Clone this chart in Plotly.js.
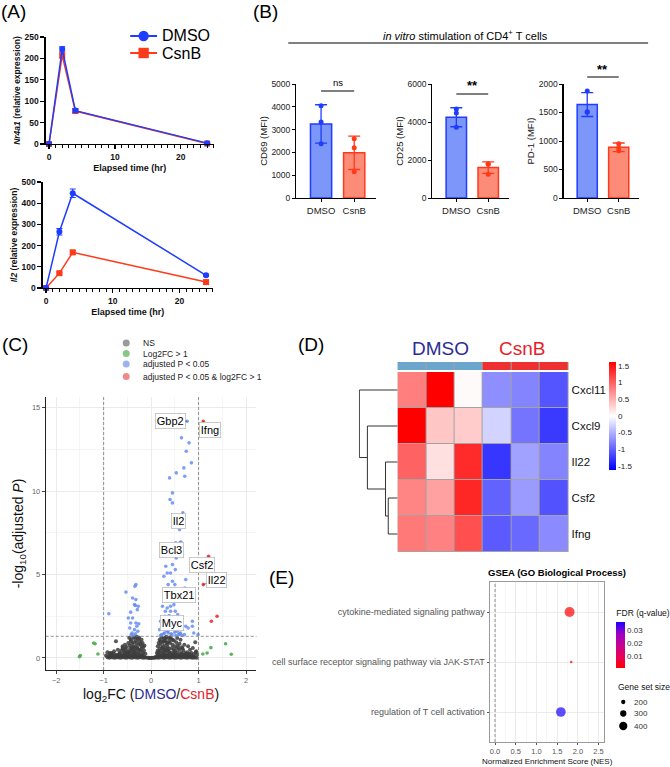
<!DOCTYPE html>
<html><head><meta charset="utf-8">
<script src="https://cdn.plot.ly/plotly-3.0.1.min.js"></script>
<style>html,body{margin:0;padding:0;background:#fff}#chart{width:670px;height:767px}</style>
</head><body><div id="chart"></div>
<script>
// ================= DATA =================
// (A) qPCR time course
const timeHr = [0, 2, 4, 24];
const nr4a1DMSO = [0, 222, 78, 2];
const nr4a1DMSOErr = [0, 5, 4, 1];
const nr4a1CsnB = [0, 207, 77, 1];
const nr4a1CsnBErr = [0, 6, 5, 1];
const il2DMSO = [0, 265, 447, 60];
const il2DMSOErr = [0, 15, 20, 4];
const il2CsnB = [0, 70, 168, 28];
const il2CsnBErr = [0, 5, 10, 3];

// (B) flow cytometry MFI
const groups = ['DMSO', 'CsnB'];
const cd69Mean = [3250, 1980];
const cd69SD = [840, 730];
const cd69Points = [[4050, 3330, 2380], [2600, 2200, 1150]];
const cd25Mean = [4250, 1600];
const cd25SD = [500, 300];
const cd25Points = [[4680, 4470, 3730], [1800, 1780, 1250]];
const pd1Mean = [1640, 890];
const pd1SD = [210, 75];
const pd1Points = [[1877, 1515, 1505], [950, 880, 830]];
const bSignif = ['ns', '**', '**'];

// (C) volcano plot  [log2FC, -log10(padj)]
const volcanoNS = [
[-0.92,0.04],[-0.88,0.02],[-0.84,0.05],[-0.8,0.03],[-0.76,0.02],[-0.72,0.04],[-0.68,0.03],[-0.64,0.02],[-0.6,0.04],[-0.56,0.03],[-0.52,0.02],[-0.48,0.04],[-0.44,0.03],[-0.4,0.02],[-0.36,0.04],[-0.32,0.03],[-0.28,0.02],[-0.24,0.04],[-0.2,0.03],[-0.16,0.02],[-0.12,0.03],[-0.08,0.02],[-0.05,0.01],[-0.03,0.0],[0.0,0.0],[0.02,0.01],
[-0.9,0.12],[-0.86,0.14],[-0.82,0.1],[-0.78,0.13],[-0.74,0.11],[-0.7,0.15],[-0.66,0.12],[-0.62,0.1],[-0.58,0.14],[-0.54,0.12],[-0.5,0.16],[-0.46,0.11],[-0.42,0.13],[-0.38,0.15],[-0.34,0.12],[-0.3,0.14],[-0.26,0.11],[-0.22,0.13],[-0.18,0.1],[-0.14,0.08],
[-0.85,0.22],[-0.79,0.25],[-0.73,0.2],[-0.67,0.24],[-0.61,0.22],[-0.55,0.27],[-0.49,0.23],[-0.43,0.26],[-0.37,0.24],[-0.31,0.28],[-0.25,0.22],[-0.19,0.2],
[-0.92,0.35],[-0.83,0.3],[-0.78,0.4],[-0.7,0.5],[-0.66,0.32],[-0.63,0.45],[-0.6,0.6],[-0.57,0.36],[-0.54,0.55],[-0.5,0.42],[-0.47,0.33],[-0.44,0.58],[-0.41,0.48],[-0.38,0.38],[-0.36,0.52],[-0.33,0.45],[-0.3,0.62],[-0.27,0.35],[-0.25,0.5],[-0.22,0.42],[-0.2,0.56],[-0.17,0.32],[-0.15,0.45],[-0.45,0.4],[-0.35,0.3],[-0.28,0.55],[-0.4,0.65],[-0.52,0.35],[-0.58,0.5],[-0.12,0.26],
[-0.74,1.0],[-0.6,0.7],[-0.55,0.8],[-0.52,0.66],[-0.48,0.9],[-0.45,0.75],[-0.43,1.1],[-0.4,0.85],[-0.38,1.2],[-0.36,0.95],[-0.34,1.25],[-0.32,1.05],[-0.3,0.9],[-0.28,1.15],[-0.26,0.8],[-0.24,1.0],[-0.22,0.85],[-0.2,0.7],[-0.18,0.9],[-0.16,0.66],[-0.14,0.75],[-0.3,1.28],[-0.25,1.22],[-0.42,1.0],[-0.33,0.72],[-0.2,1.1],[-0.37,0.68],[-0.46,1.22],[-0.87,0.3],[-0.95,0.15],
[0.05,0.01],[0.08,0.02],[0.12,0.03],[0.16,0.02],[0.2,0.04],[0.24,0.03],[0.28,0.02],[0.32,0.04],[0.36,0.03],[0.4,0.02],[0.44,0.04],[0.48,0.03],[0.52,0.02],[0.56,0.04],[0.6,0.03],[0.64,0.02],[0.68,0.04],[0.72,0.03],[0.76,0.02],[0.8,0.04],[0.84,0.03],[0.88,0.02],[0.92,0.03],[0.96,0.02],
[0.1,0.08],[0.14,0.12],[0.18,0.1],[0.22,0.14],[0.26,0.11],[0.3,0.13],[0.34,0.15],[0.38,0.12],[0.42,0.1],[0.46,0.14],[0.5,0.12],[0.54,0.15],[0.58,0.11],[0.62,0.13],[0.66,0.1],[0.7,0.14],[0.74,0.12],[0.78,0.1],[0.82,0.13],[0.86,0.11],[0.9,0.09],
[0.15,0.22],[0.21,0.25],[0.27,0.2],[0.33,0.24],[0.39,0.27],[0.45,0.22],[0.51,0.25],[0.57,0.2],[0.63,0.24],[0.69,0.21],[0.75,0.23],[0.81,0.2],
[0.12,0.3],[0.14,0.45],[0.16,0.35],[0.18,0.55],[0.2,0.42],[0.23,0.6],[0.26,0.5],[0.29,0.38],[0.32,0.58],[0.35,0.45],[0.38,0.55],[0.41,0.32],[0.44,0.6],[0.47,0.48],[0.5,0.4],[0.53,0.55],[0.56,0.35],[0.6,0.5],[0.64,0.3],[0.68,0.45],[0.72,0.28],[0.76,0.35],[0.8,0.25],[0.85,0.3],[0.9,0.22],[0.94,0.35],[0.25,0.32],[0.37,0.4],[0.48,0.3],[0.58,0.62],[0.66,0.58],[0.3,0.48],
[0.14,0.7],[0.16,0.9],[0.18,1.1],[0.2,0.8],[0.22,1.25],[0.24,0.95],[0.26,1.15],[0.28,0.75],[0.3,1.05],[0.32,1.28],[0.34,0.85],[0.36,1.2],[0.38,1.0],[0.4,0.9],[0.42,1.15],[0.45,0.8],[0.48,1.05],[0.5,0.7],[0.53,0.95],[0.56,0.75],[0.6,0.85],[0.65,0.65],[0.7,0.8],[0.2,1.0],[0.25,0.65],[0.3,1.22],[0.35,0.68],[0.4,1.25],[0.45,1.1],[0.27,1.0],[0.33,0.92],[0.78,0.7],[0.82,0.5],[0.88,0.6],[0.93,0.95],[0.97,0.2],[0.95,0.4],[0.55,1.2],[0.62,1.1]
];
const volcanoFC = [[-1.51,0.08],[-1.49,0.15],[-1.21,0.9],[-1.18,0.85],[-1.12,0.24],[1.09,0.24],[1.18,0.3],[1.26,0.62],[1.57,0.85],[1.69,0.22]];
const volcanoP = [
[0.59,14.6],[0.76,14.2],[0.64,13.2],[0.80,12.9],[0.74,12.4],[0.85,11.7],[0.69,11.4],[0.53,11.1],[0.71,10.9],[0.39,10.8],[0.45,9.9],[0.40,9.5],[0.45,9.3],[0.67,8.7],[0.50,7.9],[0.60,7.7],[0.61,6.9],[0.52,6.9],[0.63,6.95],[0.53,6.0],[0.45,5.6],[0.31,5.5],[0.34,5.1],[0.41,5.1],[0.51,5.3],[0.27,4.9],[0.45,4.6],[0.36,4.4],[0.50,4.4],[0.73,4.7],[0.71,4.2],[0.31,4.0],[0.51,3.8],
[-0.32,4.4],[-0.34,4.3],[-0.53,3.95],[-0.39,3.6],[-0.32,3.5],[-0.35,3.2],[-0.27,3.1],[-0.33,3.15],[-0.89,2.65],[-0.43,2.75],[-0.29,2.9],[-0.48,2.4],[-0.39,2.4],[-0.43,2.1],[-0.32,2.1],[-0.26,2.05],[-0.30,1.9],[-0.45,1.8],[-0.35,1.7],[-0.28,1.6],[-0.40,1.5],[-0.33,1.45],[-0.37,1.35],[-0.42,1.4],
[0.24,3.1],[0.34,3.0],[0.41,3.1],[0.48,3.2],[0.30,2.8],[0.41,2.8],[0.51,2.8],[0.29,2.5],[0.38,2.55],[0.46,2.45],[0.56,2.6],[0.20,2.2],[0.30,2.2],[0.87,2.2],[0.87,1.9],[0.73,1.9],[0.90,1.5],[0.32,1.7],[0.99,1.4],[0.78,1.8],[0.22,1.4],[0.28,1.5],[0.35,1.6],[0.42,1.45],[0.50,1.55],[0.58,1.4],[0.65,1.35],[0.18,1.7],[0.25,1.8],[0.33,1.65],[0.40,1.9],[0.47,1.75],[0.55,1.6],[0.62,1.5],[0.70,1.4],[0.20,1.35],[0.27,1.45],[0.36,1.5],[0.44,1.4],[0.52,1.35],[0.60,1.45]
];
const volcanoBoth = [[1.10,14.2],[1.21,6.1],[1.10,4.4],[1.39,2.5],[1.27,2.2]];
const labelGenes = ['Gbp2', 'Ifng', 'Il2', 'Bcl3', 'Csf2', 'Il22', 'Tbx21', 'Myc'];
const labelFC = [0.76, 1.10, 0.67, 0.53, 1.21, 1.10, 0.71, 0.32];
const labelP = [14.2, 14.2, 8.7, 6.0, 6.1, 4.4, 4.2, 1.7];
const legendC = ['NS', 'Log2FC > 1', 'adjusted P < 0.05', 'adjusted P < 0.05 & log2FC > 1'];

// (D) heatmap (row z-scores)
const heatGenes = ['Cxcl11', 'Cxcl9', 'Il22', 'Csf2', 'Ifng'];
const heatSamples = ['DMSO_1', 'DMSO_2', 'DMSO_3', 'CsnB_1', 'CsnB_2', 'CsnB_3'];
const sampleGroup = ['DMSO', 'DMSO', 'DMSO', 'CsnB', 'CsnB', 'CsnB'];
const heatZ = [
  [0.82, 1.62, 0.03, -0.72, -0.78, -1.08],
  [1.62, 0.36, 0.33, -0.28, -0.88, -1.25],
  [1.0, 0.2, 1.35, -1.28, -0.6, -0.78],
  [0.78, 0.6, 1.38, -1.0, -0.64, -1.1],
  [0.85, 0.8, 1.12, -1.05, -0.95, -0.74]
];
const dendroChildA = ['Csf2', 'Il22', 'Cxcl9', 'Cxcl11'];
const dendroChildB = ['Ifng', 'M1', 'M2', 'M3'];
const dendroHeight = [0.93, 1.2, 3.0, 3.8];

// (E) GSEA
const gseaTerms = ['cytokine-mediated signaling pathway', 'cell surface receptor signaling pathway via JAK-STAT', 'regulation of T cell activation'];
const gseaNES = [1.80, 1.84, 1.59];
const gseaFDR = [0.0012, 0.0012, 0.036];
const gseaSize = [485, 120, 470];
const sizeLegend = [200, 300, 400];

// ================= HELPERS =================
const W = 670, H = 767;
const PX = v => v / W;
const PY = v => 1 - v / H;
const dom = (a, b) => [a / W, b / W];
const domY = (top, bottom) => [1 - bottom / H, 1 - top / H];
const FONT = 'Liberation Sans, Arial, Helvetica, sans-serif';
const BLUE = '#1f3dff', RED = '#ff3a1a';
const FILL = ['rgb(125,150,250)', 'rgb(252,140,120)'];
const EDGE = [BLUE, RED];

const traces = [];
const shapes = [];
const annotations = [];

function txt(x, y, text, size, opts) {
  annotations.push(Object.assign({xref: 'paper', yref: 'paper', x: PX(x), y: PY(y), text: text, showarrow: false,
    font: {family: FONT, size: size, color: '#000'}, xanchor: 'center', yanchor: 'middle'}, opts || {}));
}

// ================= (A) =================
function lineTrace(y, err, color, symbol, xa, ya) {
  return {x: timeHr, y: y, type: 'scatter', mode: 'lines+markers', xaxis: xa, yaxis: ya, cliponaxis: false,
    line: {color: color, width: 1.5}, marker: {color: color, size: 6, symbol: symbol},
    error_y: {type: 'data', array: err, color: color, thickness: 1.2, width: 3}};
}
traces.push(lineTrace(nr4a1CsnB, nr4a1CsnBErr, RED, 'square', 'x', 'y'));
traces.push(lineTrace(nr4a1DMSO, nr4a1DMSOErr, BLUE, 'circle', 'x', 'y'));
traces.push(lineTrace(il2CsnB, il2CsnBErr, RED, 'square', 'x2', 'y2'));
traces.push(lineTrace(il2DMSO, il2DMSOErr, BLUE, 'circle', 'x2', 'y2'));

// legend A
[[36, BLUE, 'circle', groups[0]], [53, RED, 'square', groups[1]]].forEach(([yy, c, sym, label]) => {
  shapes.push({type: 'line', xref: 'paper', yref: 'paper', x0: PX(131), x1: PX(158), y0: PY(yy), y1: PY(yy), line: {color: c, width: 2}});
  const r = 5.2;
  shapes.push({type: sym === 'circle' ? 'circle' : 'rect', xref: 'paper', yref: 'paper',
    x0: PX(144.5 - r), x1: PX(144.5 + r), y0: PY(yy + r), y1: PY(yy - r), fillcolor: c, line: {color: c, width: 0}});
  txt(161, yy, label, 16, {xanchor: 'left'});
});

// ================= (B) =================
const bSets = [
  {mean: cd69Mean, sd: cd69SD, pts: cd69Points, xa: 'x3', ya: 'y3'},
  {mean: cd25Mean, sd: cd25SD, pts: cd25Points, xa: 'x4', ya: 'y4'},
  {mean: pd1Mean, sd: pd1SD, pts: pd1Points, xa: 'x5', ya: 'y5'}
];
bSets.forEach(s => {
  groups.forEach((g, gi) => {
    traces.push({type: 'bar', x: [gi], y: [s.mean[gi]], width: 0.64, xaxis: s.xa, yaxis: s.ya,
      marker: {color: FILL[gi], line: {color: EDGE[gi], width: 1.5}},
      error_y: {type: 'data', array: [s.sd[gi]], color: EDGE[gi], thickness: 1.3, width: 6}});
    traces.push({type: 'scatter', mode: 'markers', x: s.pts[gi].map(() => gi), y: s.pts[gi], xaxis: s.xa, yaxis: s.ya,
      cliponaxis: false, marker: {color: EDGE[gi], size: 5}});
  });
});

// ================= (C) =================
const vc = [
  [volcanoNS, 'rgba(60,60,60,0.85)', 4],
  [volcanoFC, 'rgba(80,170,80,0.9)', 3.6],
  [volcanoP, 'rgba(95,135,240,0.8)', 3.6],
  [volcanoBoth, 'rgba(235,50,50,0.9)', 3.6]
];
vc.forEach(([pts, col, sz]) => {
  traces.push({type: 'scatter', mode: 'markers', x: pts.map(p => p[0]), y: pts.map(p => p[1]), xaxis: 'x6', yaxis: 'y6',
    marker: {color: col, size: sz, line: {width: 0}}});
});
const labelOffset = [[-0.36, 0], [0.14, -0.5], [-0.10, -0.5], [-0.11, 0.5], [-0.14, -0.5], [0.28, 0.3], [-0.12, -0.4], [0.12, 0.4]];
labelGenes.forEach((g, i) => {
  annotations.push({xref: 'x6', yref: 'y6', axref: 'x6', ayref: 'y6', x: labelFC[i], y: labelP[i],
    ax: labelFC[i] + labelOffset[i][0], ay: labelP[i] + labelOffset[i][1], text: g, showarrow: true, arrowhead: 0,
    arrowwidth: 0.6, arrowcolor: '#333', standoff: 0, startstandoff: 0,
    font: {family: FONT, size: 11, color: '#000'}, bgcolor: 'rgba(255,255,255,0.95)', bordercolor: '#bdbdbd', borderwidth: 0.8, borderpad: 1});
});
const vThreshFC = 1, vThreshP = -Math.log10(0.05);
[-vThreshFC, vThreshFC].forEach(v => shapes.push({type: 'line', xref: 'x6', yref: 'y6 domain', x0: v, x1: v, y0: 0, y1: 1,
  line: {color: '#777', width: 0.8, dash: '3px,2px'}}));
shapes.push({type: 'line', xref: 'x6 domain', yref: 'y6', x0: 0, x1: 1, y0: vThreshP, y1: vThreshP, line: {color: '#777', width: 0.8, dash: '3px,2px'}});
// legend C
const legCol = ['#9a9a9a', '#86c686', '#9db3f0', '#f08a8a'];
const legY = [343, 353.5, 364, 376.5];
legendC.forEach((t, i) => {
  shapes.push({type: 'circle', xref: 'paper', yref: 'paper', x0: PX(123.5), x1: PX(130.5), y0: PY(legY[i] + 3.5), y1: PY(legY[i] - 3.5),
    fillcolor: legCol[i], line: {width: 0}});
  txt(142, legY[i], t, 8.5, {xanchor: 'left', font: {family: FONT, size: 8.5, color: '#222'}});
});

// ================= (D) =================
traces.push({type: 'heatmap', z: heatZ, x: heatSamples.map((s, i) => i), y: heatGenes.map((g, i) => i), xaxis: 'x7', yaxis: 'y7',
  zmin: -1.62, zmax: 1.62, xgap: 1, ygap: 1,
  colorscale: [[0, '#0000ff'], [0.5, '#ffffff'], [1, '#ff0000']],
  colorbar: {x: PX(613), xanchor: 'left', y: PY(416), yanchor: 'middle', len: 108, lenmode: 'pixels', thickness: 7,
    outlinewidth: 0, xpad: 0, ypad: 0, ticks: '', tickvals: [-1.5, -1, -0.5, 0, 0.5, 1, 1.5],
    ticktext: ['-1.5', '-1', '-0.5', '0', '0.5', '1', '1.5'], tickfont: {family: FONT, size: 8, color: '#222'}}});
const groupIndex = sampleGroup.map(g => groups.indexOf(g));
traces.push({type: 'heatmap', z: [groupIndex], x: heatSamples.map((s, i) => i), y: [0], xaxis: 'x8', yaxis: 'y8',
  zmin: 0, zmax: 1, xgap: 1, showscale: false,
  colorscale: [[0, '#6da6cc'], [0.5, '#6da6cc'], [0.5, '#ee3030'], [1, '#ee3030']]});
shapes.push({type: 'rect', xref: 'x7 domain', yref: 'y7 domain', x0: 0, x1: 1, y0: 0, y1: 1, fillcolor: '#a3a3a3', line: {width: 0}, layer: 'below'});
shapes.push({type: 'rect', xref: 'x8 domain', yref: 'y8 domain', x0: 0, x1: 1, y0: 0, y1: 1, fillcolor: '#a3a3a3', line: {width: 0}, layer: 'below'});
// dendrogram
const nodePos = {};
heatGenes.forEach((g, i) => { nodePos[g] = {y: i, h: 0}; });
const dx = [], dy = [];
dendroChildA.forEach((a, k) => {
  const A = nodePos[a], B = nodePos[dendroChildB[k]], h = dendroHeight[k];
  dx.push(A.h, h, h, B.h, null);
  dy.push(A.y, A.y, B.y, B.y, null);
  nodePos['M' + (k + 1)] = {y: (A.y + B.y) / 2, h: h};
});
traces.push({type: 'scatter', mode: 'lines', x: dx, y: dy, xaxis: 'x9', yaxis: 'y9', cliponaxis: false,
  line: {color: '#333', width: 1}});
txt(443, 348, 'DMSO', 19, {font: {family: FONT, size: 19, color: '#2b2b94'}});
txt(525, 348, 'CsnB', 19, {font: {family: FONT, size: 19, color: '#e8202a'}});

// ================= (E) =================
const sizeToDia = n => 0.3 + 0.02 * n;
traces.push({type: 'scatter', mode: 'markers', x: gseaNES, y: gseaTerms, xaxis: 'x10', yaxis: 'y10', cliponaxis: false,
  marker: {size: gseaSize.map(sizeToDia), color: gseaFDR, cmin: 0.0012, cmax: 0.036, line: {width: 0},
    colorscale: [[0, '#ff0000'], [0.25, '#e8005a'], [0.5, '#c70090'], [0.75, '#9a00c8'], [1, '#1a00ff']],
    colorbar: {x: PX(620), xanchor: 'left', y: PY(668), yanchor: 'bottom', len: 61, lenmode: 'pixels', thickness: 9,
      outlinewidth: 0, xpad: 0, ypad: 0, ticks: '', tickvals: [0.01, 0.02, 0.03], tickformat: '.2f',
      tickfont: {family: FONT, size: 8, color: '#333'},
      title: {text: 'FDR (q-value)', side: 'top', font: {family: FONT, size: 8.5, color: '#111'}}}}});
shapes.push({type: 'line', xref: 'x10', yref: 'y10 domain', x0: 0, x1: 0, y0: 0, y1: 1, line: {color: '#777', width: 0.8, dash: '3px,2px'}});
txt(620, 687, 'Gene set size', 8.5, {xanchor: 'left', font: {family: FONT, size: 8.5, color: '#111'}});
const sizeLegY = [702, 713.5, 726];
sizeLegend.forEach((n, i) => {
  const r = sizeToDia(n) / 2;
  shapes.push({type: 'circle', xref: 'paper', yref: 'paper', x0: PX(627 - r), x1: PX(627 + r), y0: PY(sizeLegY[i] + r), y1: PY(sizeLegY[i] - r),
    fillcolor: '#000', line: {width: 0}});
  txt(636, sizeLegY[i], String(n), 8, {xanchor: 'left', font: {family: FONT, size: 8, color: '#333'}});
});
txt(560, 572, '<b>GSEA (GO Biological Process)</b>', 9.5);

// ================= panel labels & B header =================
txt(14, 12, '(A)', 19);
txt(267, 12, '(B)', 19);
txt(15, 344, '(C)', 19);
txt(313, 344, '(D)', 19);
txt(283, 577, '(E)', 19);
txt(468, 35, '<i>in vitro</i> stimulation of CD4<sup>+</sup> T cells', 11);
shapes.push({type: 'line', xref: 'paper', yref: 'paper', x0: PX(290), x1: PX(652), y0: PY(43), y1: PY(43), line: {color: '#000', width: 1}});
const brackets = [['x3', 91, 82], ['x4', 94, 86], ['x5', 77, 69]];
brackets.forEach(([xa, ly, ty], i) => {
  shapes.push({type: 'line', xref: xa, yref: 'paper', x0: 0, x1: 1, y0: PY(ly), y1: PY(ly), line: {color: '#000', width: 1}});
  annotations.push({xref: xa, yref: 'paper', x: 0.5, y: PY(ty), text: bSignif[i] === 'ns' ? 'ns' : '<b>' + bSignif[i] + '</b>',
    showarrow: false, font: {family: FONT, size: bSignif[i] === 'ns' ? 9.5 : 13, color: '#000'}, xanchor: 'center', yanchor: 'middle'});
});

// ================= AXES =================
const aAxisX = {range: [-0.5, 25], tickvals: [0, 10, 20], showline: true, linecolor: '#000', linewidth: 1.4, ticks: 'outside', ticklen: 4,
  tickwidth: 1.3, tickcolor: '#000', showgrid: false, zeroline: false, tickfont: {family: FONT, size: 8.5, weight: 'bold', color: '#111'},
  minor: {ticks: 'outside', ticklen: 2.5, tickwidth: 1, dtick: 1, tick0: 0, tickcolor: '#000'},
  title: {text: '<b>Elapsed time (hr)</b>', font: {family: FONT, size: 9, color: '#111'}, standoff: 4}};
const aAxisY = {showline: true, linecolor: '#000', linewidth: 1.4, ticks: 'outside', ticklen: 4, tickwidth: 1.3, tickcolor: '#000',
  showgrid: false, zeroline: false, tickfont: {family: FONT, size: 8.5, weight: 'bold', color: '#111'}};
const bAxisX = {range: [-0.75, 1.65], tickvals: [0, 1], ticktext: groups, showline: true, linecolor: '#000', linewidth: 1.2,
  ticks: 'outside', ticklen: 3, tickcolor: '#000', showgrid: false, zeroline: false, tickfont: {family: FONT, size: 9.5, color: '#222'}};
const bAxisY = {showline: true, linecolor: '#000', linewidth: 1.2, ticks: 'outside', ticklen: 3, tickcolor: '#000',
  showgrid: false, zeroline: false, tickfont: {family: FONT, size: 8.5, color: '#222'}};
function bY(domain, range, dtick, title, anchor) {
  return Object.assign({}, bAxisY, {domain: domain, range: range, dtick: dtick, anchor: anchor,
    title: {text: title, font: {family: FONT, size: 9.5, color: '#222'}, standoff: 2}});
}

const layout = {
  width: W, height: H, margin: {l: 0, r: 0, t: 0, b: 0}, paper_bgcolor: '#fff', plot_bgcolor: '#fff', showlegend: false,
  font: {family: FONT, color: '#000'},
  xaxis: Object.assign({}, aAxisX, {domain: dom(46, 215), anchor: 'y'}),
  yaxis: Object.assign({}, aAxisY, {domain: domY(37, 144), range: [0, 250], dtick: 50, anchor: 'x',
    title: {text: '<b><i>Nr4a1</i> (relative expression)</b>', font: {family: FONT, size: 8.5, color: '#111'}, standoff: 2}}),
  xaxis2: Object.assign({}, aAxisX, {domain: dom(43, 214), anchor: 'y2'}),
  yaxis2: Object.assign({}, aAxisY, {domain: domY(182, 288), range: [0, 500], dtick: 100, anchor: 'x2',
    title: {text: '<b><i>Il2</i> (relative expression)</b>', font: {family: FONT, size: 8.5, color: '#111'}, standoff: 2}}),
  xaxis3: Object.assign({}, bAxisX, {domain: dom(298, 378), anchor: 'y3'}),
  yaxis3: bY(domY(84, 198), [0, 5000], 1000, 'CD69 (MFI)', 'x3'),
  xaxis4: Object.assign({}, bAxisX, {domain: dom(435, 512), anchor: 'y4'}),
  yaxis4: bY(domY(84, 198), [0, 6000], 2000, 'CD25 (MFI)', 'x4'),
  xaxis5: Object.assign({}, bAxisX, {domain: dom(567, 643), anchor: 'y5'}),
  yaxis5: bY(domY(84, 198), [0, 2000], 500, 'PD-1 (MFI)', 'x5'),
  xaxis6: {domain: dom(46, 258), anchor: 'y6', range: [-2.22, 2.22], dtick: 1, tick0: 0, showline: true, linecolor: '#222', linewidth: 1,
    ticks: 'outside', ticklen: 3, tickcolor: '#444', zeroline: false, showgrid: true, gridcolor: '#ebebeb', gridwidth: 1,
    minor: {showgrid: true, gridcolor: '#f5f5f5', dtick: 0.5, tick0: 0}, tickfont: {family: FONT, size: 7.5, color: '#666'},
    title: {text: 'log<sub>2</sub>FC (<span style="color:#2b2b94">DMSO</span>/<span style="color:#e8202a">CsnB</span>)', font: {family: FONT, size: 14, color: '#111'}, standoff: 5}},
  yaxis6: {domain: domY(397, 670), anchor: 'x6', range: [-0.72, 15.65], dtick: 5, tick0: 0, showline: true, linecolor: '#222', linewidth: 1,
    ticks: 'outside', ticklen: 3, tickcolor: '#444', zeroline: false, showgrid: true, gridcolor: '#ebebeb', gridwidth: 1,
    minor: {showgrid: true, gridcolor: '#f5f5f5', dtick: 2.5, tick0: 0}, tickfont: {family: FONT, size: 7.5, color: '#666'},
    title: {text: '-log<sub>10</sub>(adjusted <i>P</i>)', font: {family: FONT, size: 14, color: '#111'}, standoff: 4}},
  xaxis7: {domain: dom(400, 572), anchor: 'y7', range: [-0.5, 5.5], visible: false},
  yaxis7: {domain: domY(372, 552), anchor: 'x7', range: [4.5, -0.5], side: 'right', tickvals: heatGenes.map((g, i) => i), ticktext: heatGenes,
    ticks: '', showline: false, showgrid: false, zeroline: false, ticklabelstandoff: 2, tickfont: {family: FONT, size: 11.5, color: '#111'}},
  xaxis8: {domain: dom(400, 572), anchor: 'y8', range: [-0.5, 5.5], visible: false},
  yaxis8: {domain: domY(362, 370), anchor: 'x8', range: [-0.5, 0.5], visible: false},
  xaxis9: {domain: dom(361, 400), anchor: 'y9', range: [3.85, 0], visible: false},
  yaxis9: {domain: domY(372, 552), anchor: 'x9', range: [4.5, -0.5], visible: false},
  xaxis10: {domain: dom(493, 608), anchor: 'y10', range: [-0.12, 2.64], dtick: 0.5, tick0: 0, tickformat: '.1f', showline: true, mirror: true,
    linecolor: '#9a9a9a', linewidth: 1, ticks: 'outside', ticklen: 2, tickcolor: '#555', zeroline: false, showgrid: true, gridcolor: '#ebebeb',
    minor: {showgrid: true, gridcolor: '#f6f6f6', dtick: 0.25, tick0: 0}, tickfont: {family: FONT, size: 7.5, color: '#555'},
    title: {text: 'Normalized Enrichment Score (NES)', font: {family: FONT, size: 8, color: '#111'}, standoff: 3}},
  yaxis10: {domain: domY(582, 742), anchor: 'x10', type: 'category', categoryorder: 'array', categoryarray: gseaTerms.slice().reverse(),
    range: [-0.6, 2.6], showline: true, mirror: true, linecolor: '#9a9a9a', linewidth: 1, ticks: 'outside', ticklen: 2.5, tickcolor: '#555',
    showgrid: true, gridcolor: '#ebebeb', zeroline: false, tickfont: {family: FONT, size: 9, color: '#555'}},
  shapes: shapes,
  annotations: annotations
};

Plotly.newPlot('chart', traces, layout, {displayModeBar: false, staticPlot: true});
</script>
</body></html>
